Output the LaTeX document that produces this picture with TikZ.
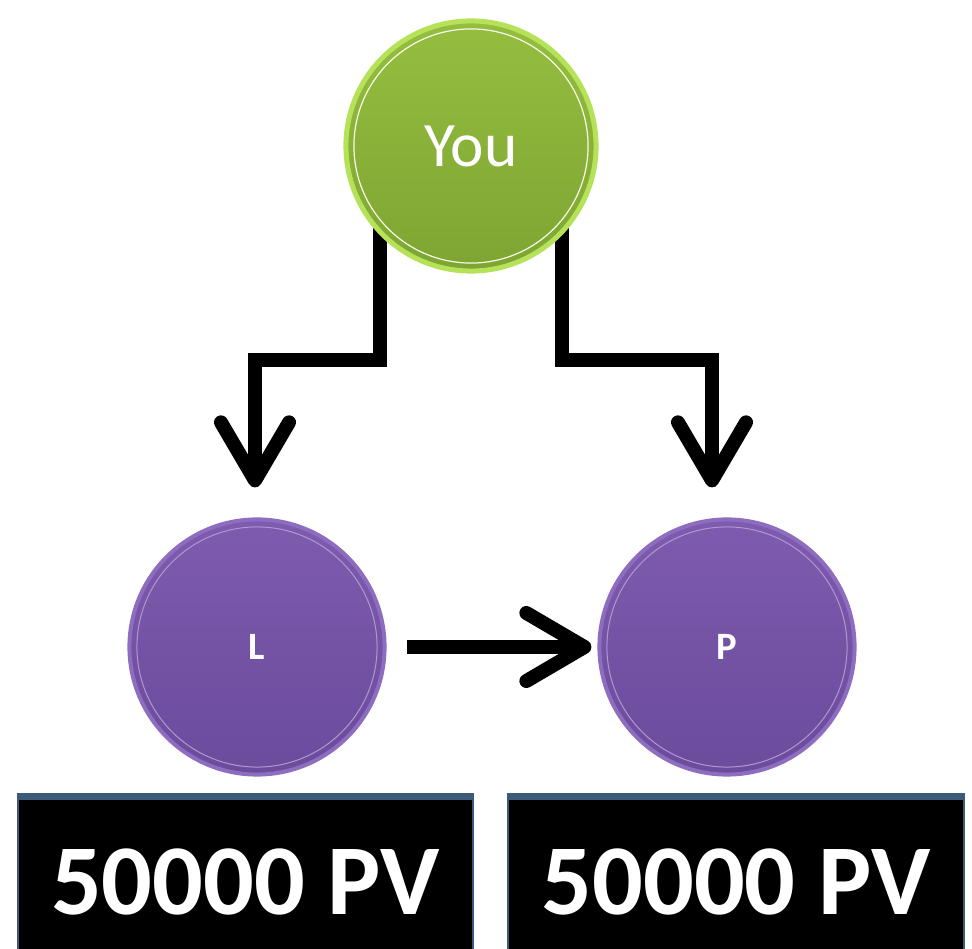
\documentclass[tikz,border=0pt]{standalone}
\usepackage{fontspec}
\setmainfont{Carlito}
\usepackage{xcolor}
\usepackage{tikz}
\usetikzlibrary{arrows.meta,backgrounds}

\definecolor{youtop}{HTML}{95BE40}
\definecolor{youbot}{HTML}{7EA532}
\definecolor{yourim}{HTML}{B6E25A}
\definecolor{legtop}{HTML}{7E5BAE}
\definecolor{legbot}{HTML}{6A4B9C}
\definecolor{legrim}{HTML}{8E6CC0}
\definecolor{pvedge}{HTML}{3E5A7A}

\tikzset{
  flow/.style={line width=0.14cm, -{Straight Barb[length=0.58cm,width=0.68cm,round]}, line join=miter},
  you/.style={circle, minimum size=2.5cm, top color=youtop, bottom color=youbot,
    draw=yourim, line width=0.05cm, text=white, font=\fontsize{18}{18}\selectfont},
  leg/.style={circle, minimum size=2.55cm, top color=legtop, bottom color=legbot,
    draw=legrim, line width=0.04cm, text=white, font=\bfseries\fontsize{11}{11}\selectfont},
  pvbox/.style={rectangle, fill=black, draw=pvedge, line width=0.02cm,
    minimum width=4.55cm, minimum height=1.57cm, text=white,
    text height=21.6pt, text depth=0pt,
    font=\bfseries\fontsize{28.5}{28.5}\selectfont},
  pvtop/.style={pvedge, line width=0.07cm}
}

\begin{document}
\begin{tikzpicture}[x=0.01cm,y=-0.01cm]
  \useasboundingbox (0,0) rectangle (972,949);
  \node[you] (You) at (471,146) {You};
  \draw[white!85!yourim, line width=0.012cm] (You.center) circle (1.17cm);
  \node[leg] (L) at (257,647) {L};
  \node[leg] (P) at (727,647) {P};
  \draw[legrim!70!white, line width=0.01cm] (L.center) circle (1.2cm);
  \draw[legrim!70!white, line width=0.01cm] (P.center) circle (1.2cm);
  \coordinate (lbend) at (255,360);
  \coordinate (rbend) at (712,360);
  \begin{pgfonlayer}{background}
    \draw[flow, shorten >=0.3cm] ([xshift=-0.91cm]You.center) |- (lbend) -- (lbend |- L.north);
    \draw[flow, shorten >=0.3cm] ([xshift=0.91cm]You.center) |- (rbend) -- (rbend |- P.north);
  \end{pgfonlayer}
  \draw[flow, shorten <=0.2cm, shorten >=0.06cm] (L.east) -- (P.west);
  \node[pvbox] (Lpv) at (245.5,876.5) {50000 PV};
  \node[pvbox] (Ppv) at (736,876.5) {50000 PV};
  \draw[pvtop] (Lpv.north west) -- (Lpv.north east);
  \draw[pvtop] (Ppv.north west) -- (Ppv.north east);
\end{tikzpicture}
\end{document}
